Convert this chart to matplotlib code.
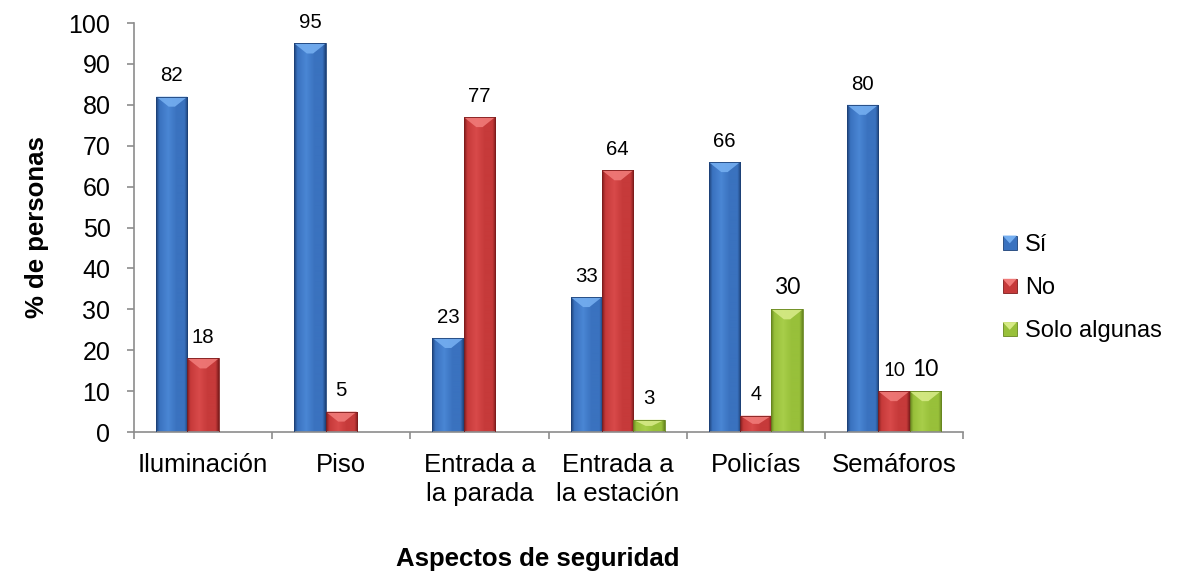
import numpy as np
import matplotlib
matplotlib.use("Agg")
import matplotlib.pyplot as plt
from matplotlib.colors import LinearSegmentedColormap
from matplotlib.patches import Rectangle, Polygon
from matplotlib.legend_handler import HandlerBase

# ---- data -------------------------------------------------------------
categories = ["Iluminación", "Piso", "Entrada a\nla parada",
              "Entrada a\nla estación", "Policías", "Semáforos"]
series_names = ["Sí", "No", "Solo algunas"]
si_values = [82, 95, 23, 33, 66, 80]
no_values = [18, 5, 77, 64, 4, 10]
solo_values = [None, None, None, 3, 30, 10]
y_ticks = [0, 10, 20, 30, 40, 50, 60, 70, 80, 90, 100]

series_values = [si_values, no_values, solo_values]

# ---- styles -----------------------------------------------------------
# (dark edge, body, highlight, bevel top)
palettes = [
    ("#1d4177", "#3a72bf", "#4a86d4", "#74aef0"),
    ("#7e1c1c", "#c63a3a", "#d84a4a", "#f07a78"),
    ("#67861f", "#98c03a", "#a8ce4a", "#d6ea86"),
]
ARIAL = "Liberation Sans"
CAL = "Lato"
label_fonts = [
    [(ARIAL, 14.7)] * 6,
    [(ARIAL, 14.7)] * 4 + [(CAL, 13.5), (CAL, 13.5)],
    [(ARIAL, 14.7)] * 3 + [(ARIAL, 14.7), (CAL, 16.5), (CAL, 16.5)],
]
axis_grey = "#8c8c8c"

plt.rcParams["font.family"] = [ARIAL, "DejaVu Sans"]

fig = plt.figure(figsize=(11.81, 5.73), dpi=100)
ax = fig.add_axes([0.1135, 0.246, 0.7019, 0.7138])

bar_w = 0.2265
x = np.arange(len(categories))
px_per_unit_y = 409 / 100.0   # vertical scale used for bevel size
bevel_h = 10 / px_per_unit_y


def shade_bar(ax, patch, pal):
    x0, w, h = patch.get_x(), patch.get_width(), patch.get_height()
    if h <= 0:
        return
    dark, body, hi, top = pal
    cmap = LinearSegmentedColormap.from_list(
        "bar", [(0.0, dark), (0.10, body), (0.38, hi), (0.65, body),
                (0.90, body), (1.0, dark)])
    grad = cmap(np.linspace(0, 1, 64))[None, :, :3]
    im = ax.imshow(grad, extent=(x0, x0 + w, 0, h), aspect="auto",
                   interpolation="bilinear", zorder=2)
    im.set_clip_path(patch)
    bh = min(bevel_h, h * 0.5)
    ax.add_patch(Polygon([(x0, h), (x0 + w, h), (x0 + 0.6 * w, h - bh),
                          (x0 + 0.4 * w, h - bh)], closed=True,
                         facecolor=top, edgecolor="none", alpha=0.9, zorder=3))
    ax.add_patch(Rectangle((x0, 0), w, h, facecolor="none",
                           edgecolor=dark, lw=0.6, zorder=4))


for i, (vals, pal) in enumerate(zip(series_values, palettes)):
    heights = [np.nan if v is None else v for v in vals]
    bars = ax.bar(x + (i - 1) * bar_w, np.nan_to_num(heights), bar_w,
                  color=pal[1], linewidth=0, zorder=1, label=series_names[i])
    for j, (patch, v) in enumerate(zip(bars.patches, vals)):
        if v is None:
            patch.set_visible(False)
            continue
        shade_bar(ax, patch, pal)
        fam, size = label_fonts[i][j]
        ax.annotate(str(v), (patch.get_x() + patch.get_width() / 2, v),
                    xytext=(0, 11), textcoords="offset points",
                    ha="center", va="baseline", fontsize=size,
                    family=[fam, "DejaVu Sans"], zorder=5)

ax.set_xlim(-0.5, len(categories) - 0.5)
ax.set_ylim(0, 100)

# axes styling
for s in ("top", "right"):
    ax.spines[s].set_visible(False)
for s in ("left", "bottom"):
    ax.spines[s].set_color(axis_grey)
    ax.spines[s].set_linewidth(1.2)

ax.set_yticks(y_ticks)
ax.tick_params(axis="y", direction="out", length=5, width=1.2,
               color=axis_grey, pad=12, labelsize=18)
ax.set_xticks(np.arange(-0.5, len(categories)))
ax.set_xticklabels([])
ax.tick_params(axis="x", which="major", direction="out", length=5,
               width=1.2, color=axis_grey)
ax.set_xticks(x, minor=True)
ax.set_xticklabels(categories, minor=True, fontsize=18.5,
                   linespacing=1.27)
ax.tick_params(axis="x", which="minor", length=0, pad=15)

ax.set_ylabel("% de personas", fontsize=18.5, fontweight="bold", labelpad=14)
fig.text(0.455, 0.0122, "Aspectos de seguridad", fontsize=18.5,
         fontweight="bold", ha="center", va="baseline")


class BevelSquareHandler(HandlerBase):
    def __init__(self, pal):
        super().__init__()
        self.pal = pal

    def create_artists(self, legend, orig_handle, xdescent, ydescent,
                       width, height, fontsize, trans):
        dark, body, hi, top = self.pal
        s = min(width, height)
        x0 = -xdescent
        y0 = -ydescent + (height - s) / 2
        sq = Rectangle((x0, y0), s, s, facecolor=body, edgecolor=dark,
                       lw=0.6, transform=trans)
        tri = Polygon([(x0, y0 + s), (x0 + s, y0 + s),
                       (x0 + 0.5 * s, y0 + 0.45 * s)], closed=True,
                      facecolor=top, edgecolor="none", transform=trans)
        return [sq, tri]


handles = [Rectangle((0, 0), 1, 1, facecolor=p[1]) for p in palettes]
leg = fig.legend(handles, series_names, loc="center left",
                 bbox_to_anchor=(0.849, 0.497), frameon=False,
                 fontsize=17, handlelength=0.6, handleheight=0.6,
                 handletextpad=0.35, labelspacing=0.9, borderpad=0,
                 borderaxespad=0,
                 handler_map={h: BevelSquareHandler(p)
                              for h, p in zip(handles, palettes)})

fig.savefig("out.png", dpi=100, facecolor="white")
